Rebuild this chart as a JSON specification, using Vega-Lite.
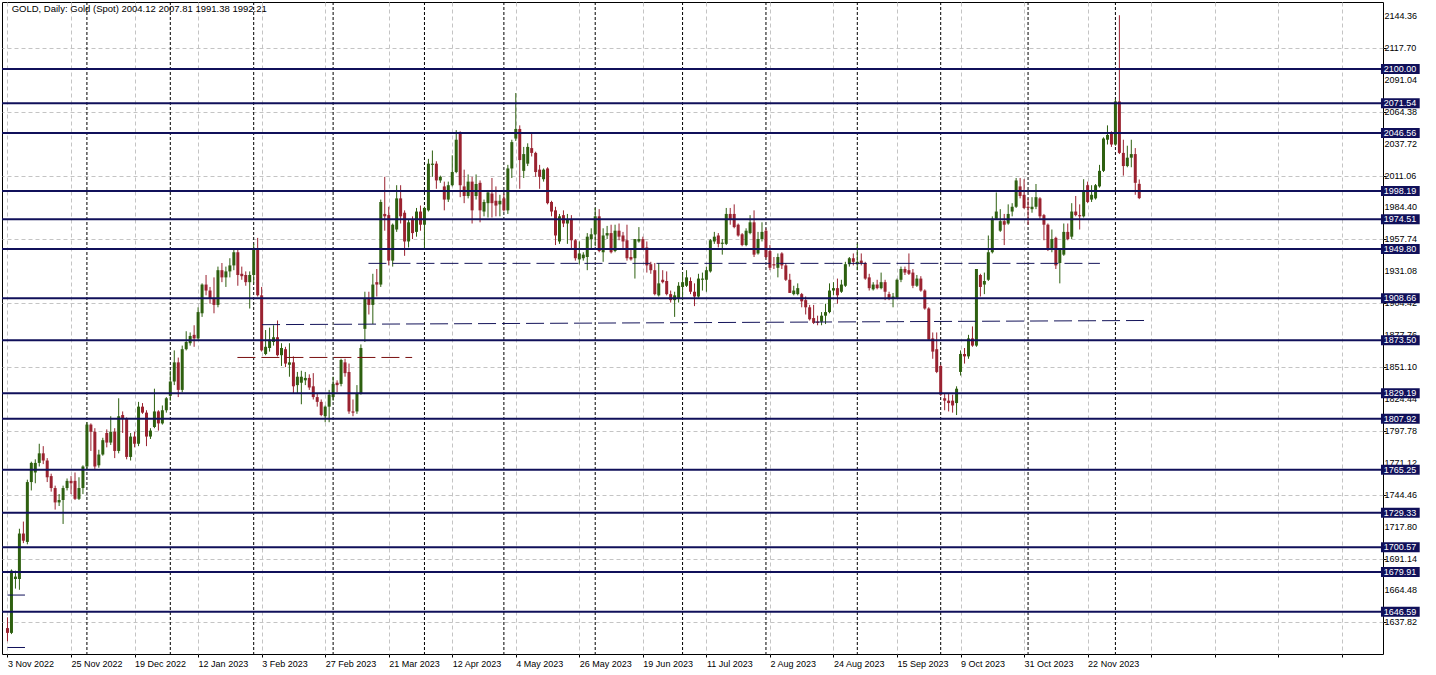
{
"$schema": "https://vega.github.io/schema/vega-lite/v6.json",
"width": 1381,
"height": 652,
"autosize": {"type": "none"},
"padding": {"left": 2, "top": 2, "right": 53, "bottom": 21},
"background": "#ffffff",
"config": {
 "view": {"stroke": "#000000", "strokeWidth": 1},
 "font": "Liberation Sans",
 "axis": {"labelOverlap": false, "labelFlush": false, "labelBound": false, "labelFontSize": 9, "labelFont": "Liberation Sans", "labelColor": "#000000", "grid": true, "gridColor": "#c4c4c4", "gridDash": [4, 3], "gridWidth": 1, "domain": false, "ticks": true, "tickSize": 3, "tickColor": "#000000", "title": null},
 "axisX": {"labelAlign": "left", "labelBaseline": "top", "labelPadding": 2},
 "axisY": {"labels": false}
},
"datasets": {
"candles": [
{"i":0,"o":1633,"h":1642,"l":1622,"c":1629},{"i":1,"o":1629,"h":1682,"l":1628,"c":1681},{"i":2,"o":1674,"h":1681,"l":1666,"c":1676},{"i":3,"o":1674,"h":1716,"l":1665,"c":1712},{"i":4,"o":1712,"h":1722,"l":1704,"c":1706},{"i":5,"o":1705,"h":1757,"l":1703,"c":1755},{"i":6,"o":1755,"h":1772,"l":1748,"c":1771},{"i":7,"o":1763,"h":1774,"l":1754,"c":1771},{"i":8,"o":1771,"h":1787,"l":1768,"c":1779},{"i":9,"o":1779,"h":1785,"l":1770,"c":1773},
{"i":10,"o":1773,"h":1775,"l":1755,"c":1759},{"i":11,"o":1760,"h":1762,"l":1747,"c":1750},{"i":12,"o":1750,"h":1752,"l":1732,"c":1738},{"i":13,"o":1738,"h":1745,"l":1735,"c":1740},{"i":14,"o":1740,"h":1752,"l":1720,"c":1750},{"i":15,"o":1750,"h":1758,"l":1748,"c":1756},{"i":16,"o":1756,"h":1760,"l":1745,"c":1754},{"i":17,"o":1756,"h":1763,"l":1740,"c":1741},{"i":18,"o":1741,"h":1759,"l":1740,"c":1750},{"i":19,"o":1750,"h":1769,"l":1745,"c":1768},
{"i":20,"o":1768,"h":1805,"l":1766,"c":1803},{"i":21,"o":1803,"h":1804,"l":1781,"c":1797},{"i":22,"o":1797,"h":1800,"l":1765,"c":1768},{"i":23,"o":1769,"h":1782,"l":1767,"c":1778},{"i":24,"o":1778,"h":1792,"l":1777,"c":1790},{"i":25,"o":1796,"h":1799,"l":1784,"c":1788},{"i":26,"o":1788,"h":1810,"l":1786,"c":1797},{"i":27,"o":1797,"h":1800,"l":1775,"c":1781},{"i":28,"o":1781,"h":1825,"l":1779,"c":1810},{"i":29,"o":1811,"h":1814,"l":1796,"c":1808},
{"i":30,"o":1808,"h":1809,"l":1774,"c":1776},{"i":31,"o":1776,"h":1796,"l":1773,"c":1793},{"i":32,"o":1793,"h":1797,"l":1784,"c":1787},{"i":33,"o":1787,"h":1822,"l":1785,"c":1818},{"i":34,"o":1818,"h":1821,"l":1812,"c":1813},{"i":35,"o":1813,"h":1815,"l":1785,"c":1793},{"i":36,"o":1793,"h":1800,"l":1791,"c":1798},{"i":37,"o":1801,"h":1833,"l":1800,"c":1814},{"i":38,"o":1814,"h":1815,"l":1798,"c":1804},{"i":39,"o":1804,"h":1819,"l":1803,"c":1815},
{"i":40,"o":1815,"h":1826,"l":1813,"c":1825},{"i":41,"o":1827,"h":1848,"l":1823,"c":1839},{"i":42,"o":1839,"h":1865,"l":1836,"c":1855},{"i":43,"o":1855,"h":1859,"l":1826,"c":1832},{"i":44,"o":1832,"h":1869,"l":1830,"c":1866},{"i":45,"o":1866,"h":1881,"l":1865,"c":1872},{"i":46,"o":1871,"h":1880,"l":1869,"c":1877},{"i":47,"o":1878,"h":1886,"l":1868,"c":1875},{"i":48,"o":1875,"h":1901,"l":1874,"c":1897},{"i":49,"o":1896,"h":1921,"l":1893,"c":1920},
{"i":50,"o":1920,"h":1928,"l":1911,"c":1915},{"i":51,"o":1915,"h":1918,"l":1904,"c":1908},{"i":52,"o":1908,"h":1926,"l":1896,"c":1903},{"i":53,"o":1903,"h":1935,"l":1901,"c":1932},{"i":54,"o":1932,"h":1938,"l":1922,"c":1926},{"i":55,"o":1926,"h":1935,"l":1918,"c":1931},{"i":56,"o":1931,"h":1942,"l":1926,"c":1936},{"i":57,"o":1936,"h":1949,"l":1932,"c":1947},{"i":58,"o":1947,"h":1949,"l":1919,"c":1928},{"i":59,"o":1929,"h":1935,"l":1924,"c":1927},
{"i":60,"o":1928,"h":1931,"l":1919,"c":1922},{"i":61,"o":1922,"h":1931,"l":1900,"c":1928},{"i":62,"o":1928,"h":1954,"l":1921,"c":1950},{"i":63,"o":1950,"h":1959,"l":1910,"c":1911},{"i":64,"o":1911,"h":1918,"l":1864,"c":1865},{"i":65,"o":1862,"h":1882,"l":1861,"c":1868},{"i":66,"o":1867,"h":1884,"l":1864,"c":1874},{"i":67,"o":1872,"h":1886,"l":1869,"c":1876},{"i":68,"o":1876,"h":1890,"l":1860,"c":1861},{"i":69,"o":1861,"h":1871,"l":1852,"c":1867},
{"i":70,"o":1866,"h":1868,"l":1851,"c":1854},{"i":71,"o":1853,"h":1871,"l":1843,"c":1855},{"i":72,"o":1855,"h":1860,"l":1829,"c":1835},{"i":73,"o":1836,"h":1847,"l":1829,"c":1843},{"i":74,"o":1838,"h":1848,"l":1820,"c":1843},{"i":75,"o":1840,"h":1847,"l":1836,"c":1842},{"i":76,"o":1842,"h":1845,"l":1832,"c":1834},{"i":77,"o":1835,"h":1846,"l":1824,"c":1826},{"i":78,"o":1826,"h":1829,"l":1818,"c":1822},{"i":79,"o":1822,"h":1824,"l":1810,"c":1811},
{"i":80,"o":1810,"h":1819,"l":1805,"c":1818},{"i":81,"o":1818,"h":1832,"l":1805,"c":1828},{"i":82,"o":1826,"h":1843,"l":1823,"c":1837},{"i":83,"o":1838,"h":1840,"l":1830,"c":1836},{"i":84,"o":1837,"h":1858,"l":1835,"c":1857},{"i":85,"o":1855,"h":1858,"l":1843,"c":1846},{"i":86,"o":1847,"h":1854,"l":1812,"c":1814},{"i":87,"o":1814,"h":1824,"l":1810,"c":1813},{"i":88,"o":1814,"h":1836,"l":1812,"c":1829},{"i":89,"o":1829,"h":1870,"l":1828,"c":1867},
{"i":90,"o":1883,"h":1914,"l":1872,"c":1908},{"i":91,"o":1908,"h":1914,"l":1895,"c":1903},{"i":92,"o":1903,"h":1929,"l":1887,"c":1920},{"i":93,"o":1922,"h":1933,"l":1910,"c":1920},{"i":94,"o":1920,"h":1991,"l":1918,"c":1989},{"i":95,"o":1979,"h":2010,"l":1965,"c":1977},{"i":96,"o":1978,"h":1985,"l":1936,"c":1940},{"i":97,"o":1940,"h":1971,"l":1935,"c":1970},{"i":98,"o":1966,"h":2003,"l":1964,"c":1992},{"i":99,"o":1992,"h":2003,"l":1971,"c":1977},
{"i":100,"o":1980,"h":1982,"l":1944,"c":1956},{"i":101,"o":1956,"h":1974,"l":1951,"c":1972},{"i":102,"o":1974,"h":1977,"l":1958,"c":1963},{"i":103,"o":1964,"h":1984,"l":1960,"c":1981},{"i":104,"o":1981,"h":1986,"l":1965,"c":1970},{"i":105,"o":1970,"h":1985,"l":1950,"c":1984},{"i":106,"o":1982,"h":2025,"l":1981,"c":2021},{"i":107,"o":2020,"h":2032,"l":2010,"c":2021},{"i":108,"o":2021,"h":2023,"l":2000,"c":2007},{"i":109,"o":2007,"h":2011,"l":2005,"c":2010},
{"i":110,"o":2002,"h":2006,"l":1982,"c":1991},{"i":111,"o":1991,"h":2006,"l":1989,"c":2003},{"i":112,"o":2003,"h":2028,"l":2002,"c":2014},{"i":113,"o":2014,"h":2049,"l":2013,"c":2041},{"i":114,"o":2046,"h":2048,"l":1993,"c":2003},{"i":115,"o":2002,"h":2016,"l":1988,"c":1994},{"i":116,"o":1994,"h":2012,"l":1992,"c":2006},{"i":117,"o":2006,"h":2010,"l":1971,"c":1982},{"i":118,"o":1994,"h":2012,"l":1991,"c":2004},{"i":119,"o":2005,"h":2007,"l":1972,"c":1982},
{"i":120,"o":1981,"h":1991,"l":1977,"c":1989},{"i":121,"o":1988,"h":1999,"l":1976,"c":1997},{"i":122,"o":1996,"h":2009,"l":1976,"c":1988},{"i":123,"o":1990,"h":2002,"l":1977,"c":1986},{"i":124,"o":1987,"h":1995,"l":1977,"c":1990},{"i":125,"o":1992,"h":1996,"l":1981,"c":1982},{"i":126,"o":1982,"h":2020,"l":1979,"c":2017},{"i":127,"o":2017,"h":2041,"l":2009,"c":2039},{"i":128,"o":2042,"h":2080,"l":2040,"c":2050},{"i":129,"o":2050,"h":2053,"l":2000,"c":2024},
{"i":130,"o":2015,"h":2035,"l":2009,"c":2029},{"i":131,"o":2021,"h":2038,"l":2019,"c":2035},{"i":132,"o":2034,"h":2047,"l":2027,"c":2030},{"i":133,"o":2030,"h":2031,"l":2010,"c":2014},{"i":134,"o":2016,"h":2020,"l":2000,"c":2010},{"i":135,"o":2008,"h":2017,"l":2006,"c":2016},{"i":136,"o":2017,"h":2018,"l":1987,"c":1988},{"i":137,"o":1989,"h":1990,"l":1977,"c":1981},{"i":138,"o":1982,"h":1985,"l":1953,"c":1961},{"i":139,"o":1956,"h":1979,"l":1954,"c":1977},
{"i":140,"o":1978,"h":1982,"l":1968,"c":1971},{"i":141,"o":1971,"h":1979,"l":1954,"c":1974},{"i":142,"o":1974,"h":1978,"l":1949,"c":1957},{"i":143,"o":1957,"h":1958,"l":1940,"c":1942},{"i":144,"o":1941,"h":1956,"l":1937,"c":1946},{"i":145,"o":1942,"h":1947,"l":1940,"c":1945},{"i":146,"o":1943,"h":1963,"l":1932,"c":1960},{"i":147,"o":1958,"h":1967,"l":1950,"c":1962},{"i":148,"o":1962,"h":1984,"l":1952,"c":1977},{"i":149,"o":1977,"h":1983,"l":1947,"c":1948},
{"i":150,"o":1947,"h":1967,"l":1939,"c":1961},{"i":151,"o":1961,"h":1969,"l":1958,"c":1963},{"i":152,"o":1963,"h":1970,"l":1946,"c":1947},{"i":153,"o":1948,"h":1970,"l":1947,"c":1965},{"i":154,"o":1965,"h":1971,"l":1957,"c":1960},{"i":155,"o":1961,"h":1964,"l":1949,"c":1956},{"i":156,"o":1957,"h":1970,"l":1940,"c":1942},{"i":157,"o":1943,"h":1950,"l":1940,"c":1941},{"i":158,"o":1942,"h":1958,"l":1925,"c":1958},{"i":159,"o":1956,"h":1968,"l":1955,"c":1958},
{"i":160,"o":1958,"h":1960,"l":1949,"c":1950},{"i":161,"o":1951,"h":1956,"l":1930,"c":1936},{"i":162,"o":1937,"h":1939,"l":1929,"c":1932},{"i":163,"o":1932,"h":1938,"l":1911,"c":1912},{"i":164,"o":1911,"h":1938,"l":1910,"c":1921},{"i":165,"o":1924,"h":1932,"l":1921,"c":1922},{"i":166,"o":1923,"h":1931,"l":1911,"c":1912},{"i":167,"o":1912,"h":1915,"l":1905,"c":1907},{"i":168,"o":1907,"h":1914,"l":1893,"c":1911},{"i":169,"o":1908,"h":1922,"l":1905,"c":1919},
{"i":170,"o":1918,"h":1930,"l":1907,"c":1922},{"i":171,"o":1919,"h":1932,"l":1918,"c":1926},{"i":172,"o":1923,"h":1926,"l":1912,"c":1914},{"i":173,"o":1914,"h":1921,"l":1902,"c":1910},{"i":174,"o":1910,"h":1929,"l":1909,"c":1925},{"i":175,"o":1924,"h":1930,"l":1915,"c":1925},{"i":176,"o":1924,"h":1935,"l":1914,"c":1932},{"i":177,"o":1931,"h":1958,"l":1930,"c":1957},{"i":178,"o":1956,"h":1964,"l":1954,"c":1960},{"i":179,"o":1961,"h":1963,"l":1951,"c":1954},
{"i":180,"o":1954,"h":1958,"l":1945,"c":1955},{"i":181,"o":1954,"h":1984,"l":1953,"c":1979},{"i":182,"o":1979,"h":1984,"l":1970,"c":1974},{"i":183,"o":1979,"h":1987,"l":1967,"c":1968},{"i":184,"o":1970,"h":1971,"l":1960,"c":1961},{"i":185,"o":1962,"h":1963,"l":1952,"c":1953},{"i":186,"o":1953,"h":1967,"l":1952,"c":1965},{"i":187,"o":1963,"h":1978,"l":1962,"c":1972},{"i":188,"o":1972,"h":1982,"l":1943,"c":1945},{"i":189,"o":1946,"h":1964,"l":1945,"c":1958},
{"i":190,"o":1958,"h":1972,"l":1956,"c":1964},{"i":191,"o":1965,"h":1967,"l":1942,"c":1943},{"i":192,"o":1948,"h":1953,"l":1932,"c":1934},{"i":193,"o":1937,"h":1943,"l":1933,"c":1936},{"i":194,"o":1934,"h":1946,"l":1926,"c":1943},{"i":195,"o":1946,"h":1947,"l":1933,"c":1936},{"i":196,"o":1936,"h":1938,"l":1923,"c":1924},{"i":197,"o":1924,"h":1929,"l":1913,"c":1913},{"i":198,"o":1912,"h":1919,"l":1911,"c":1915},{"i":199,"o":1912,"h":1921,"l":1911,"c":1917},
{"i":200,"o":1912,"h":1913,"l":1901,"c":1906},{"i":201,"o":1907,"h":1910,"l":1895,"c":1901},{"i":202,"o":1901,"h":1903,"l":1890,"c":1891},{"i":203,"o":1892,"h":1903,"l":1887,"c":1888},{"i":204,"o":1889,"h":1894,"l":1886,"c":1888},{"i":205,"o":1889,"h":1897,"l":1886,"c":1894},{"i":206,"o":1894,"h":1904,"l":1887,"c":1897},{"i":207,"o":1897,"h":1921,"l":1896,"c":1915},{"i":208,"o":1915,"h":1922,"l":1911,"c":1917},{"i":209,"o":1917,"h":1925,"l":1904,"c":1911},
{"i":210,"o":1914,"h":1924,"l":1913,"c":1920},{"i":211,"o":1919,"h":1939,"l":1918,"c":1937},{"i":212,"o":1937,"h":1943,"l":1935,"c":1942},{"i":213,"o":1942,"h":1946,"l":1936,"c":1939},{"i":214,"o":1937,"h":1954,"l":1932,"c":1939},{"i":215,"o":1940,"h":1946,"l":1936,"c":1938},{"i":216,"o":1938,"h":1939,"l":1924,"c":1925},{"i":217,"o":1926,"h":1929,"l":1915,"c":1917},{"i":218,"o":1916,"h":1922,"l":1915,"c":1920},{"i":219,"o":1920,"h":1924,"l":1916,"c":1917},
{"i":220,"o":1917,"h":1930,"l":1916,"c":1922},{"i":221,"o":1922,"h":1924,"l":1907,"c":1914},{"i":222,"o":1912,"h":1914,"l":1907,"c":1908},{"i":223,"o":1908,"h":1913,"l":1901,"c":1910},{"i":224,"o":1909,"h":1925,"l":1908,"c":1924},{"i":225,"o":1924,"h":1935,"l":1922,"c":1933},{"i":226,"o":1933,"h":1935,"l":1928,"c":1930},{"i":227,"o":1932,"h":1946,"l":1928,"c":1929},{"i":228,"o":1930,"h":1933,"l":1917,"c":1919},{"i":229,"o":1919,"h":1928,"l":1918,"c":1925},
{"i":230,"o":1925,"h":1927,"l":1914,"c":1915},{"i":231,"o":1915,"h":1916,"l":1899,"c":1900},{"i":232,"o":1900,"h":1901,"l":1873,"c":1874},{"i":233,"o":1875,"h":1880,"l":1858,"c":1864},{"i":234,"o":1866,"h":1880,"l":1846,"c":1847},{"i":235,"o":1852,"h":1853,"l":1827,"c":1828},{"i":236,"o":1825,"h":1829,"l":1815,"c":1823},{"i":237,"o":1823,"h":1829,"l":1814,"c":1821},{"i":238,"o":1823,"h":1828,"l":1813,"c":1819},{"i":239,"o":1821,"h":1835,"l":1811,"c":1833},
{"i":240,"o":1847,"h":1865,"l":1844,"c":1862},{"i":241,"o":1862,"h":1867,"l":1854,"c":1860},{"i":242,"o":1860,"h":1878,"l":1858,"c":1875},{"i":243,"o":1875,"h":1885,"l":1868,"c":1869},{"i":244,"o":1869,"h":1933,"l":1868,"c":1933},{"i":245,"o":1928,"h":1929,"l":1910,"c":1918},{"i":246,"o":1920,"h":1930,"l":1912,"c":1923},{"i":247,"o":1924,"h":1961,"l":1923,"c":1947},{"i":248,"o":1947,"h":1977,"l":1946,"c":1975},{"i":249,"o":1975,"h":1997,"l":1974,"c":1981},
{"i":250,"o":1965,"h":1983,"l":1964,"c":1973},{"i":251,"o":1973,"h":1979,"l":1953,"c":1970},{"i":252,"o":1971,"h":1987,"l":1970,"c":1979},{"i":253,"o":1981,"h":1988,"l":1977,"c":1985},{"i":254,"o":1985,"h":2009,"l":1984,"c":2007},{"i":255,"o":2002,"h":2009,"l":1992,"c":1994},{"i":256,"o":1995,"h":2008,"l":1983,"c":1984},{"i":257,"o":1985,"h":1992,"l":1970,"c":1984},{"i":258,"o":1983,"h":1993,"l":1980,"c":1985},{"i":259,"o":1985,"h":2004,"l":1983,"c":1993},
{"i":260,"o":1992,"h":1993,"l":1975,"c":1977},{"i":261,"o":1978,"h":1979,"l":1957,"c":1970},{"i":262,"o":1970,"h":1971,"l":1948,"c":1949},{"i":263,"o":1949,"h":1966,"l":1947,"c":1958},{"i":264,"o":1959,"h":1960,"l":1933,"c":1936},{"i":265,"o":1938,"h":1950,"l":1921,"c":1949},{"i":266,"o":1945,"h":1971,"l":1944,"c":1964},{"i":267,"o":1964,"h":1971,"l":1957,"c":1958},{"i":268,"o":1960,"h":1988,"l":1958,"c":1981},{"i":269,"o":1981,"h":1994,"l":1977,"c":1978},
{"i":270,"o":1978,"h":1987,"l":1966,"c":1977},{"i":271,"o":1977,"h":2008,"l":1976,"c":1999},{"i":272,"o":2003,"h":2006,"l":1988,"c":1989},{"i":273,"o":1991,"h":2003,"l":1989,"c":1995},{"i":274,"o":1992,"h":2004,"l":1991,"c":2003},{"i":275,"o":2002,"h":2020,"l":2001,"c":2015},{"i":276,"o":2015,"h":2043,"l":2014,"c":2042},{"i":277,"o":2041,"h":2053,"l":2037,"c":2045},{"i":278,"o":2046,"h":2048,"l":2035,"c":2037},{"i":279,"o":2037,"h":2075,"l":2036,"c":2073},
{"i":280,"o":2073,"h":2145,"l":2029,"c":2030},{"i":281,"o":2030,"h":2041,"l":2011,"c":2019},{"i":282,"o":2019,"h":2036,"l":2018,"c":2026},{"i":283,"o":2026,"h":2041,"l":2018,"c":2029},{"i":284,"o":2029,"h":2034,"l":1995,"c":2005},{"i":285,"o":2004.12,"h":2007.81,"l":1991.38,"c":1992.21}
],
"levels": [{"price":2100.00},{"price":2071.54},{"price":2046.56},{"price":1998.19},{"price":1974.51},{"price":1949.80},{"price":1908.66},{"price":1873.50},{"price":1829.19},{"price":1807.92},{"price":1765.25},{"price":1729.33},{"price":1700.57},{"price":1679.91},{"price":1646.59}],
"yticks": [{"v":2144.36},{"v":2117.70},{"v":2091.04},{"v":2064.38},{"v":2037.72},{"v":2011.06},{"v":1984.40},{"v":1957.74},{"v":1931.08},{"v":1904.42},{"v":1877.76},{"v":1851.10},{"v":1824.44},{"v":1797.78},{"v":1771.12},{"v":1744.46},{"v":1717.80},{"v":1691.14},{"v":1664.48},{"v":1637.82}],
"separators": [{"i":20},{"i":41},{"i":62},{"i":82},{"i":105},{"i":125},{"i":148},{"i":170},{"i":191},{"i":214},{"i":235},{"i":257},{"i":279}],
"dashed": [{"x1":90.9,"x2":275.1,"p1":1937.7,"p2":1937.7,"col":"#14145a"},{"x1":64.1,"x2":287.4,"p1":1886.5,"p2":1890.0,"col":"#14145a"},{"x1":57.9,"x2":101.9,"p1":1859.1,"p2":1859.1,"col":"#7a1010"}],
"short": [{"x1":0,"x2":4.4,"p":1660.6},{"x1":0,"x2":4.4,"p":1616.8}],
"header": [{"label":"GOLD, Daily:  Gold (Spot)  2004.12 2007.81 1991.38 1992.21","i":1.05,"p":2147.7}]
},
"layer": [
{"data": {"name": "separators"}, "mark": {"type": "rule", "color": "#000000", "strokeWidth": 1, "strokeDash": [3, 2]},
 "encoding": {
  "x": {"field": "i", "type": "quantitative", "scale": {"domain": [-0.125, 345.125], "nice": false, "zero": false},
   "axis": {"values": [0,8,16,24,32,40,48,56,64,72,80,88,96,104,112,120,128,136,144,152,160,168,176,184,192,200,208,216,224,232,240,248,256,264,272,280,288,296,304,312,320,328,336,344],
    "labelExpr": "(datum.value % 16 == 0 && datum.value <= 272) ? ['3 Nov 2022','25 Nov 2022','19 Dec 2022','12 Jan 2023','3 Feb 2023','27 Feb 2023','21 Mar 2023','12 Apr 2023','4 May 2023','26 May 2023','19 Jun 2023','11 Jul 2023','2 Aug 2023','24 Aug 2023','15 Sep 2023','9 Oct 2023','31 Oct 2023','22 Nov 2023'][datum.value / 16] : ''",
    "title": null}}
 }},
{"data": {"name": "candles"}, "mark": {"type": "rule", "strokeWidth": 1},
 "encoding": {
  "x": {"field": "i", "type": "quantitative", "scale": {"domain": [-0.125, 345.125], "nice": false, "zero": false}},
  "y": {"field": "l", "type": "quantitative", "scale": {"domain": [1611.36, 2156.06], "nice": false, "zero": false},
   "axis": {"orient": "right", "values": [2144.36,2117.70,2091.04,2064.38,2037.72,2011.06,1984.40,1957.74,1931.08,1904.42,1877.76,1851.10,1824.44,1797.78,1771.12,1744.46,1717.80,1691.14,1664.48,1637.82],
    "labels": false, "title": null}},
  "y2": {"field": "h"},
  "color": {"condition": {"test": "datum.c >= datum.o", "value": "#2e6010"}, "value": "#9a2230"}
 }},
{"data": {"name": "candles"}, "mark": {"type": "bar", "width": 3},
 "encoding": {
  "x": {"field": "i", "type": "quantitative", "scale": {"domain": [-0.125, 345.125], "nice": false, "zero": false}},
  "y": {"field": "o", "type": "quantitative", "scale": {"domain": [1611.36, 2156.06], "nice": false, "zero": false}},
  "y2": {"field": "c"},
  "color": {"condition": {"test": "datum.c >= datum.o", "value": "#2e6010"}, "value": "#9a2230"}
 }},
{"mark": {"type": "rule", "color": "#a8a8a8", "strokeWidth": 1},
 "encoding": {"y": {"datum": 1992.21, "type": "quantitative", "scale": {"domain": [1611.36, 2156.06], "nice": false, "zero": false}}}},
{"data": {"name": "levels"}, "mark": {"type": "rule", "color": "#10105a", "strokeWidth": 2},
 "encoding": {"y": {"field": "price", "type": "quantitative", "scale": {"domain": [1611.36, 2156.06], "nice": false, "zero": false}}}},
{"data": {"name": "dashed"}, "mark": {"type": "rule", "strokeWidth": 1, "strokeDash": [18, 6]},
 "encoding": {
  "x": {"field": "x1", "type": "quantitative", "scale": {"domain": [-0.125, 345.125], "nice": false, "zero": false}},
  "x2": {"field": "x2"},
  "y": {"field": "p1", "type": "quantitative", "scale": {"domain": [1611.36, 2156.06], "nice": false, "zero": false}},
  "y2": {"field": "p2"},
  "color": {"field": "col", "type": "nominal", "scale": null, "legend": null}
 }},
{"data": {"name": "short"}, "mark": {"type": "rule", "strokeWidth": 1, "color": "#10105a"},
 "encoding": {
  "x": {"field": "x1", "type": "quantitative", "scale": {"domain": [-0.125, 345.125], "nice": false, "zero": false}},
  "x2": {"field": "x2"},
  "y": {"field": "p", "type": "quantitative", "scale": {"domain": [1611.36, 2156.06], "nice": false, "zero": false}}
 }},
{"data": {"name": "yticks"}, "mark": {"type": "text", "color": "#000000", "align": "left", "baseline": "middle", "fontSize": 9, "font": "Liberation Sans", "clip": false},
 "encoding": {
  "x": {"datum": 346.75, "type": "quantitative", "scale": {"domain": [-0.125, 345.125], "nice": false, "zero": false}},
  "y": {"field": "v", "type": "quantitative", "scale": {"domain": [1611.36, 2156.06], "nice": false, "zero": false}},
  "text": {"field": "v", "type": "quantitative", "format": ".2f"}
 }},
{"data": {"name": "levels"}, "mark": {"type": "rect", "color": "#10105a", "yOffset": -5, "y2Offset": 5, "clip": false},
 "encoding": {
  "x": {"datum": 345.875, "type": "quantitative", "scale": {"domain": [-0.125, 345.125], "nice": false, "zero": false}},
  "x2": {"datum": 355.625},
  "y": {"field": "price", "type": "quantitative", "scale": {"domain": [1611.36, 2156.06], "nice": false, "zero": false}},
  "y2": {"field": "price"}
 }},
{"data": {"name": "levels"}, "mark": {"type": "text", "color": "#ffffff", "align": "left", "baseline": "middle", "fontSize": 9, "font": "Liberation Sans", "clip": false},
 "encoding": {
  "x": {"datum": 346.55, "type": "quantitative", "scale": {"domain": [-0.125, 345.125], "nice": false, "zero": false}},
  "y": {"field": "price", "type": "quantitative", "scale": {"domain": [1611.36, 2156.06], "nice": false, "zero": false}},
  "text": {"field": "price", "type": "quantitative", "format": ".2f"}
 }},
{"data": {"name": "header"}, "mark": {"type": "text", "color": "#000000", "align": "left", "baseline": "alphabetic", "fontSize": 9.5, "font": "Liberation Sans"},
 "encoding": {
  "x": {"field": "i", "type": "quantitative", "scale": {"domain": [-0.125, 345.125], "nice": false, "zero": false}},
  "y": {"field": "p", "type": "quantitative", "scale": {"domain": [1611.36, 2156.06], "nice": false, "zero": false}},
  "text": {"field": "label", "type": "nominal"}
 }},
{"mark": {"type": "point", "shape": "triangle-down", "filled": true, "color": "#b4b4b4", "size": 45, "opacity": 1},
 "encoding": {
  "x": {"datum": 285, "type": "quantitative", "scale": {"domain": [-0.125, 345.125], "nice": false, "zero": false}},
  "y": {"datum": 2153.0, "type": "quantitative", "scale": {"domain": [1611.36, 2156.06], "nice": false, "zero": false}}
 }}
]
}
